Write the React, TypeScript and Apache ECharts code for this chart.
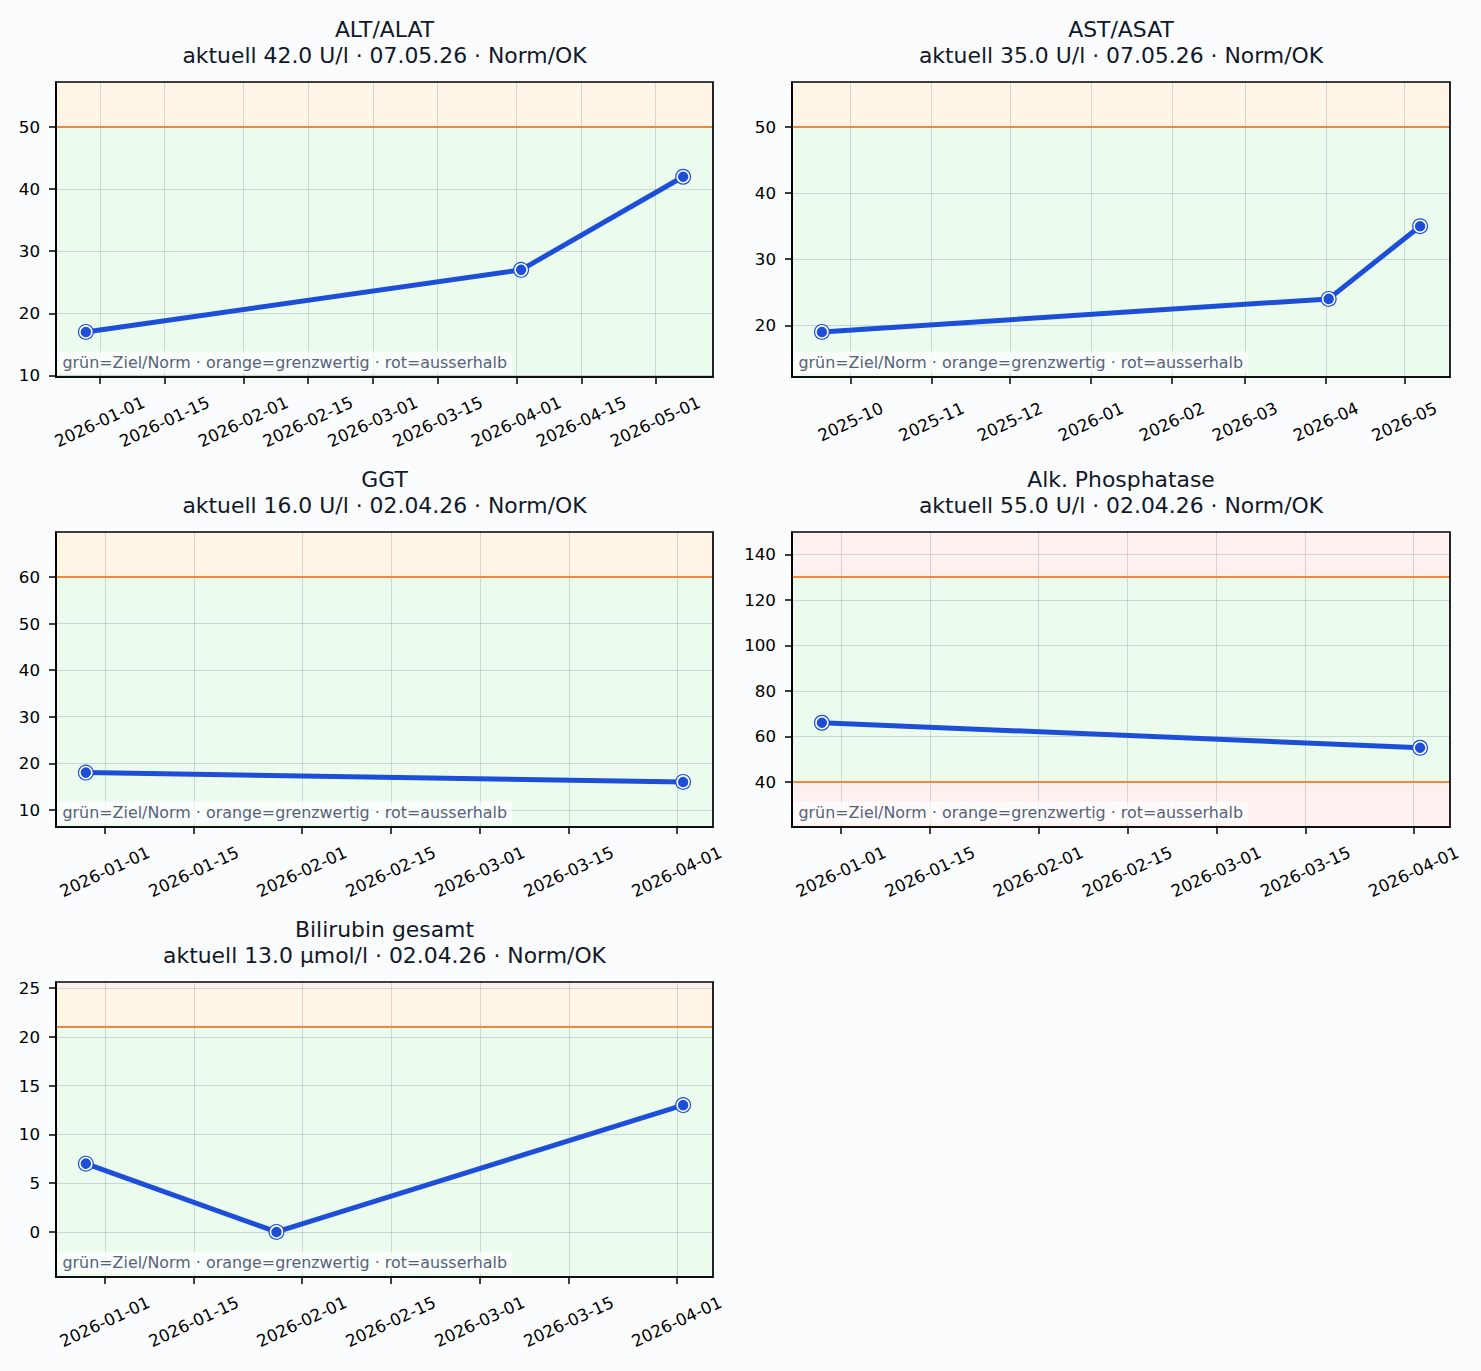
import React, { useEffect, useRef } from "react";
import * as echarts from "echarts";

// ---------- data ----------
const altDates = ["2025-12-29", "2026-04-02", "2026-05-07"];
const altValues = [17, 27, 42];
const astDates = ["2025-09-20", "2026-04-02", "2026-05-07"];
const astValues = [19, 24, 35];
const ggtDates = ["2025-12-29", "2026-04-02"];
const ggtValues = [18, 16];
const alpDates = ["2025-12-29", "2026-04-02"];
const alpValues = [66, 55];
const biliDates = ["2025-12-29", "2026-01-28", "2026-04-02"];
const biliValues = [7, 0, 13];

const titles = ["ALT/ALAT", "AST/ASAT", "GGT", "Alk. Phosphatase", "Bilirubin gesamt"];
const subtitles = [
  "aktuell 42.0 U/l · 07.05.26 · Norm/OK",
  "aktuell 35.0 U/l · 07.05.26 · Norm/OK",
  "aktuell 16.0 U/l · 02.04.26 · Norm/OK",
  "aktuell 55.0 U/l · 02.04.26 · Norm/OK",
  "aktuell 13.0 µmol/l · 02.04.26 · Norm/OK",
];
const upperLimits = [50, 50, 60, 130, 21];
const lowerLimits: (number | null)[] = [null, null, null, 40, null];

const altXTicks = [
  "2026-01-01", "2026-01-15", "2026-02-01", "2026-02-15", "2026-03-01",
  "2026-03-15", "2026-04-01", "2026-04-15", "2026-05-01",
];
const astXTicks = [
  "2025-10-01", "2025-11-01", "2025-12-01", "2026-01-01",
  "2026-02-01", "2026-03-01", "2026-04-01", "2026-05-01",
];
const q1XTicks = [
  "2026-01-01", "2026-01-15", "2026-02-01", "2026-02-15",
  "2026-03-01", "2026-03-15", "2026-04-01",
];
const altYTicks = [10, 20, 30, 40, 50];
const astYTicks = [20, 30, 40, 50];
const ggtYTicks = [10, 20, 30, 40, 50, 60];
const alpYTicks = [40, 60, 80, 100, 120, 140];
const biliYTicks = [0, 5, 10, 15, 20, 25];

const legendNote = "grün=Ziel/Norm · orange=grenzwertig · rot=ausserhalb";

// ---------- style / layout ----------
const W = 1481;
const H = 1371;
const FONT = "DejaVu Sans";
const BLUE = "#1d4ed8";
const ORANGE = "#f0883e";
const GREEN_BAND = "#ebfcef";
const ORANGE_BAND = "#fff5e7";
const RED_BAND = "#fff0f0";
const GRID_LINE = "rgba(100,116,139,0.26)";
const lefts = [56, 792, 56, 792, 56];
const tops = [82, 82, 532, 532, 982];
const widths = [657, 658, 657, 658, 657];
const PH = 295;

const ts = (s: string) => {
  const [y, m, d] = s.split("-").map(Number);
  return Date.UTC(y, m - 1, d);
};
const pad2 = (n: number) => (n < 10 ? "0" + n : "" + n);
const fmtDay = (v: number) => {
  const d = new Date(v);
  return d.getUTCFullYear() + "-" + pad2(d.getUTCMonth() + 1) + "-" + pad2(d.getUTCDate());
};
const fmtMonth = (v: number) => {
  const d = new Date(v);
  return d.getUTCFullYear() + "-" + pad2(d.getUTCMonth() + 1);
};

const panels = [
  { dates: altDates, values: altValues, xTicks: altXTicks, yTicks: altYTicks, fmt: fmtDay },
  { dates: astDates, values: astValues, xTicks: astXTicks, yTicks: astYTicks, fmt: fmtMonth },
  { dates: ggtDates, values: ggtValues, xTicks: q1XTicks, yTicks: ggtYTicks, fmt: fmtDay },
  { dates: alpDates, values: alpValues, xTicks: q1XTicks, yTicks: alpYTicks, fmt: fmtDay },
  { dates: biliDates, values: biliValues, xTicks: q1XTicks, yTicks: biliYTicks, fmt: fmtDay },
];

function buildOption() {
  const grid: any[] = [];
  const xAxis: any[] = [];
  const yAxis: any[] = [];
  const series: any[] = [];
  const graphic: any[] = [];

  panels.forEach((p, i) => {
    const times = p.dates.map(ts);
    const t0 = Math.min(...times);
    const t1 = Math.max(...times);
    const xm = (t1 - t0) * 0.05;
    const up = upperLimits[i];
    const lowL = lowerLimits[i];
    const lo = Math.min(...p.values, lowL == null ? Infinity : lowL);
    const hi = Math.max(...p.values, up);
    const yp = (hi - lo) * 0.22;
    const ymin = lo - yp;
    const ymax = hi + yp;

    const left = lefts[i];
    const top = tops[i];
    const width = widths[i];

    grid.push({
      left, top, width, height: PH,
      show: true, borderColor: "#000", borderWidth: 1.7,
      backgroundColor: "transparent", z: 6,
    });

    xAxis.push({
      type: "value", gridIndex: i, min: t0 - xm, max: t1 + xm,
      axisLine: { show: true, onZero: false, lineStyle: { color: "#000", width: 1.7 } },
      axisTick: { show: true, length: 7, lineStyle: { color: "#000", width: 1.5 }, customValues: p.xTicks.map(ts) },
      axisLabel: {
        customValues: p.xTicks.map(ts), formatter: (v: number) => p.fmt(v),
        rotate: 25, align: "center", verticalAlign: "middle", margin: 45,
        fontSize: 16.7, color: "#000", fontFamily: FONT,
      },
      splitLine: { show: true, lineStyle: { color: GRID_LINE, width: 1 } },
    });

    yAxis.push({
      type: "value", gridIndex: i, min: ymin, max: ymax,
      axisLine: { show: true, onZero: false, lineStyle: { color: "#000", width: 1.7 } },
      axisTick: { show: true, length: 7, lineStyle: { color: "#000", width: 1.5 }, customValues: p.yTicks },
      axisLabel: { customValues: p.yTicks, margin: 16, fontSize: 16.7, color: "#000", fontFamily: FONT },
      splitLine: { show: true, lineStyle: { color: GRID_LINE, width: 1 } },
    });

    // bands
    const bands: [number, number, string][] = [];
    const redFrom = up * 1.19;
    if (lowL != null) {
      bands.push([ymin, lowL, RED_BAND], [lowL, up, GREEN_BAND], [up, ymax, RED_BAND]);
    } else {
      bands.push([ymin, up, GREEN_BAND], [up, Math.min(redFrom, ymax), ORANGE_BAND]);
      if (redFrom < ymax) bands.push([redFrom, ymax, RED_BAND]);
    }
    const pts = times.map((t, k) => [t, p.values[k]]);
    series.push({
      type: "line", xAxisIndex: i, yAxisIndex: i, data: pts, z: -2,
      symbol: "none", lineStyle: { width: 0, opacity: 0 }, silent: true,
      markArea: {
        z: -2, silent: true, label: { show: false },
        data: bands
          .filter((b) => b[1] > b[0])
          .map((b) => [{ yAxis: b[0], itemStyle: { color: b[2] } }, { yAxis: b[1] }]),
      },
    });

    const limits = [up].concat(lowL != null ? [lowL] : []);
    series.push({
      type: "line", xAxisIndex: i, yAxisIndex: i, data: pts, z: 3,
      showSymbol: false, symbol: "none",
      lineStyle: { color: BLUE, width: 5 },
      markLine: {
        z: 2, silent: true, symbol: ["none", "none"], label: { show: false },
        lineStyle: { color: ORANGE, width: 2.2, type: "solid" },
        data: limits.map((v) => ({ yAxis: v })),
      },
    });
    series.push({
      type: "scatter", xAxisIndex: i, yAxisIndex: i, data: pts, z: 4,
      symbol: "circle", symbolSize: 16, itemStyle: { color: BLUE, opacity: 1 }, silent: true,
    });
    series.push({
      type: "scatter", xAxisIndex: i, yAxisIndex: i, data: pts, z: 5,
      symbol: "circle", symbolSize: 12,
      itemStyle: { color: BLUE, borderColor: "#ffffff", borderWidth: 1.5, opacity: 1 }, silent: true,
    });

    const cx = left + width / 2;
    graphic.push({
      type: "text", x: cx, y: top - 53, silent: true,
      style: { text: titles[i], textAlign: "center", textVerticalAlign: "middle", font: `21.9px "${FONT}"`, fill: "#111827" },
    });
    graphic.push({
      type: "text", x: cx, y: top - 27, silent: true,
      style: { text: subtitles[i], textAlign: "center", textVerticalAlign: "middle", font: `21.9px "${FONT}"`, fill: "#111827" },
    });
    graphic.push({
      type: "text", x: left + 1.5, y: top + PH - 14.5, silent: true, z: 10,
      style: {
        text: legendNote, textAlign: "left", textVerticalAlign: "middle",
        font: `15.9px "${FONT}"`, fill: "#55627a",
        backgroundColor: "rgba(255,255,255,0.72)", padding: [3, 5, 3, 5],
      },
    });
  });

  return {
    animation: false,
    backgroundColor: "#fbfcfe",
    textStyle: { fontFamily: FONT },
    grid, xAxis, yAxis, series, graphic,
  };
}

export default function App() {
  const ref = useRef<HTMLDivElement>(null);
  useEffect(() => {
    if (!ref.current) return;
    const chart = echarts.init(ref.current, undefined, { renderer: "svg", width: W, height: H });
    chart.setOption(buildOption() as any);
    return () => chart.dispose();
  }, []);
  return (
    <div
      ref={ref}
      style={{ position: "absolute", left: 0, top: 0, width: W, height: H, background: "#fbfcfe" }}
    />
  );
}
